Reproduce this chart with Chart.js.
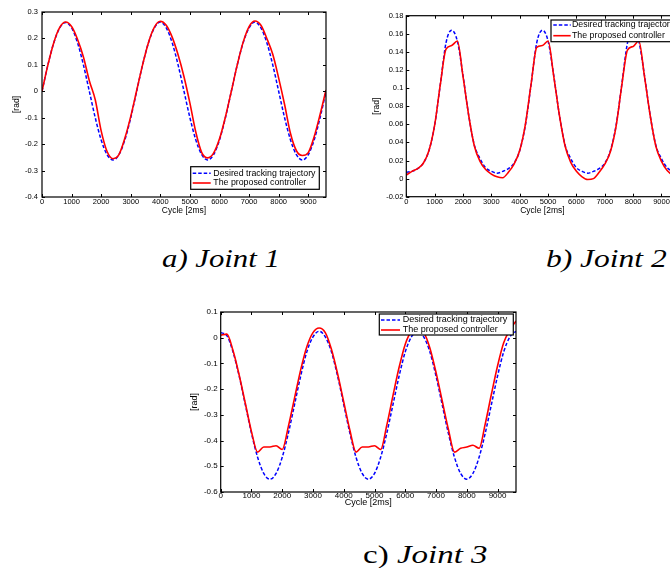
<!DOCTYPE html>
<html lang="en">
<head>
  <meta charset="UTF-8">
  <title>Joint tracking</title>
  <script src="https://cdn.jsdelivr.net/npm/chart.js@4"></script>
  <style>
    html, body {
      margin: 0;
      padding: 0;
      background: #fff;
      width: 670px;
      height: 568px;
      overflow: hidden;
    }
    canvas {
      position: absolute;
    }
    .cap {
      position: absolute;
      font-family: "Liberation Serif", "Times New Roman", serif;
      font-size: 25px;
      line-height: 25px;
      white-space: nowrap;
      transform-origin: 0 0;
      color: #000;
    }
    .cap i {
      font-style: italic;
    }
  </style>
</head>
<body>
  <canvas id="joint1" width="340" height="222" style="left:0px;top:0px"></canvas>
  <canvas id="joint2" width="360" height="222" style="left:330px;top:0px"></canvas>
  <canvas id="joint3" width="340" height="222" style="left:180px;top:300px"></canvas>

  <div class="cap" style="left:162px;top:246px;transform:scaleX(1.23)"><i>a) Joint 1</i></div>
  <div class="cap" style="left:546px;top:246px;transform:scaleX(1.26)"><i>b) Joint 2</i></div>
  <div class="cap" style="left:363px;top:542px;transform:scaleX(1.32)">c) <i>Joint 3</i></div>

  <script>
    // sample points along x (cycles of 2 ms)
    const cycles = [0, 200, 400, 600, 800, 1000, 1200, 1400, 1600, 1800,
      2000, 2200, 2400, 2600, 2800, 3000, 3200, 3400, 3600, 3800,
      4000, 4200, 4400, 4600, 4800, 5000, 5200, 5400, 5600, 5800,
      6000, 6200, 6400, 6600, 6800, 7000, 7200, 7400, 7600, 7800,
      8000, 8200, 8400, 8600, 8800, 9000, 9200, 9400, 9600];

    const seriesNames = ['Desired tracking trajectory', 'The proposed controller'];

    // a) Joint 1
    const joint1Desired = [0, 0.1, 0.184, 0.24, 0.26, 0.24, 0.184, 0.1, 0, -0.1,
      -0.184, -0.24, -0.26, -0.24, -0.184, -0.1, 0, 0.1, 0.184, 0.24,
      0.262, 0.24, 0.184, 0.1, 0, -0.1, -0.184, -0.24, -0.26, -0.24,
      -0.184, -0.1, 0, 0.1, 0.184, 0.24, 0.262, 0.24, 0.184, 0.1,
      0, -0.1, -0.184, -0.24, -0.26, -0.24, -0.184, -0.1, 0];
    const joint1Actual = [0, 0.1, 0.185, 0.242, 0.262, 0.245, 0.197, 0.13, 0.04, -0.032,
      -0.15, -0.228, -0.255, -0.24, -0.178, -0.095, 0.003, 0.1, 0.185, 0.243,
      0.265, 0.25, 0.205, 0.138, 0.055, -0.045, -0.155, -0.232, -0.252, -0.234,
      -0.18, -0.097, 0, 0.1, 0.186, 0.245, 0.266, 0.25, 0.2, 0.14,
      0.05, -0.05, -0.16, -0.225, -0.243, -0.232, -0.172, -0.088, 0.005];

    // b) Joint 2
    const joint2Desired = [0.007, 0.008, 0.011, 0.017, 0.031, 0.059, 0.104, 0.15, 0.164, 0.152,
      0.114, 0.07, 0.037, 0.022, 0.012, 0.008, 0.006, 0.008, 0.011, 0.017,
      0.031, 0.059, 0.104, 0.15, 0.164, 0.152, 0.114, 0.07, 0.037, 0.022,
      0.012, 0.008, 0.006, 0.008, 0.011, 0.017, 0.031, 0.059, 0.104, 0.15,
      0.164, 0.152, 0.114, 0.07, 0.037, 0.022, 0.012, 0.008, 0.006];
    const joint2Actual = [0.004, 0.008, 0.011, 0.017, 0.031, 0.059, 0.104, 0.143, 0.147, 0.152,
      0.113, 0.07, 0.036, 0.019, 0.01, 0.005, 0.002, 0.001, 0.007, 0.016,
      0.031, 0.06, 0.104, 0.145, 0.147, 0.152, 0.113, 0.07, 0.036, 0.018,
      0.008, 0.002, -0.001, 0, 0.007, 0.016, 0.03, 0.058, 0.103, 0.142,
      0.146, 0.152, 0.113, 0.07, 0.036, 0.019, 0.009, 0.004, 0.002];

    // c) Joint 3
    const joint3Desired = [0.02, 0.008, -0.055, -0.149, -0.26, -0.371, -0.465, -0.528, -0.55, -0.528,
      -0.465, -0.371, -0.26, -0.149, -0.055, 0.003, 0.025, 0.003, -0.055, -0.149,
      -0.26, -0.371, -0.465, -0.528, -0.55, -0.528, -0.465, -0.371, -0.26, -0.149,
      -0.055, 0.003, 0.025, 0.003, -0.055, -0.149, -0.26, -0.371, -0.465, -0.528,
      -0.55, -0.528, -0.465, -0.371, -0.26, -0.149, -0.055, 0.003, 0.025];
    const joint3Actual = [0.01, 0.014, -0.05, -0.145, -0.255, -0.365, -0.445, -0.425, -0.425, -0.42,
      -0.435, -0.345, -0.235, -0.125, -0.035, 0.02, 0.038, 0.02, -0.045, -0.14,
      -0.25, -0.36, -0.445, -0.425, -0.425, -0.42, -0.435, -0.34, -0.225, -0.115,
      -0.025, 0.025, 0.04, 0.022, -0.04, -0.135, -0.245, -0.355, -0.445, -0.43,
      -0.425, -0.418, -0.43, -0.335, -0.22, -0.11, -0.02, 0.03, 0.065];

    // tick positions
    const xTicks = [0, 1000, 2000, 3000, 4000, 5000, 6000, 7000, 8000, 9000];
    const joint1YTicks = [-0.4, -0.3, -0.2, -0.1, 0, 0.1, 0.2, 0.3];
    const joint2YTicks = [-0.02, 0, 0.02, 0.04, 0.06, 0.08, 0.1, 0.12, 0.14, 0.16, 0.18];
    const joint3YTicks = [-0.6, -0.5, -0.4, -0.3, -0.2, -0.1, 0, 0.1];

    Chart.defaults.font.family = '"Liberation Sans", Arial, sans-serif';
    Chart.defaults.color = '#000';

    // matlab style box with inward ticks + legend inside the axes
    const matlabBox = {
      id: 'matlabBox',
      afterDatasetsDraw(chart, args, opts) {
        const { ctx, chartArea: a, scales: { x, y } } = chart;
        const tl = opts.tick;
        ctx.save();
        ctx.strokeStyle = '#000';
        ctx.lineWidth = 1;
        ctx.setLineDash([]);
        ctx.beginPath();
        x.ticks.forEach(t => {
          const px = Math.round(x.getPixelForValue(t.value)) + 0.5;
          ctx.moveTo(px, a.bottom); ctx.lineTo(px, a.bottom - tl);
          ctx.moveTo(px, a.top); ctx.lineTo(px, a.top + tl);
        });
        y.ticks.forEach(t => {
          const py = Math.round(y.getPixelForValue(t.value)) + 0.5;
          ctx.moveTo(a.left, py); ctx.lineTo(a.left + tl, py);
          ctx.moveTo(a.right, py); ctx.lineTo(a.right - tl, py);
        });
        ctx.stroke();
        ctx.lineWidth = 1.2;
        ctx.strokeRect(a.left, a.top, a.right - a.left, a.bottom - a.top);

        // legend
        const lg = opts.legend;
        ctx.fillStyle = '#fff';
        ctx.fillRect(lg.x, lg.y, lg.w, lg.h);
        ctx.strokeRect(lg.x, lg.y, lg.w, lg.h);
        ctx.font = lg.font + 'px "Liberation Sans", Arial, sans-serif';
        ctx.textBaseline = 'middle';
        ctx.textAlign = 'left';
        chart.data.datasets.forEach((ds, i) => {
          const ry = lg.rows[i];
          ctx.strokeStyle = ds.borderColor;
          ctx.lineWidth = ds.borderWidth;
          ctx.setLineDash(ds.borderDash || []);
          ctx.beginPath();
          ctx.moveTo(lg.sx, ry);
          ctx.lineTo(lg.sx + lg.sw, ry);
          ctx.stroke();
          ctx.setLineDash([]);
          ctx.fillStyle = '#000';
          ctx.fillText(ds.label, lg.tx, ry);
        });
        ctx.restore();
      }
    };

    function pts(vals) {
      return cycles.map((c, i) => ({ x: c, y: vals[i] }));
    }

    function fmt(v) {
      return String(Number(v.toFixed(3)));
    }

    function jointChart(id, desired, actual, yTicks, g) {
      return new Chart(document.getElementById(id), {
        type: 'line',
        data: {
          datasets: [
            { label: seriesNames[0], data: pts(desired), borderColor: '#0000ff', borderWidth: 1.5, borderDash: [3.5, 2], order: 1 },
            { label: seriesNames[1], data: pts(actual), borderColor: '#ff0000', borderWidth: 1.6, order: 0 }
          ]
        },
        options: {
          responsive: false,
          animation: false,
          devicePixelRatio: 1,
          layout: { padding: g.pad },
          elements: {
            point: { radius: 0 },
            line: { cubicInterpolationMode: 'monotone', fill: false }
          },
          plugins: {
            legend: { display: false },
            tooltip: { enabled: false },
            matlabBox: { tick: 3, legend: g.legend }
          },
          scales: {
            x: {
              type: 'linear',
              bounds: 'data',
              min: 0,
              max: 9600,
              afterBuildTicks: s => { s.ticks = xTicks.map(v => ({ value: v })); },
              afterFit: s => { s.height = g.xh; },
              grid: { display: false, drawTicks: false },
              border: { display: false },
              ticks: { font: { size: g.tick, lineHeight: 1 }, padding: g.xtp, maxRotation: 0, autoSkip: false, callback: v => String(v) },
              title: { display: true, text: 'Cycle [2ms]', font: { size: g.title }, padding: { top: 0, bottom: g.xtb } }
            },
            y: {
              type: 'linear',
              bounds: 'data',
              min: yTicks[0],
              max: yTicks[yTicks.length - 1],
              afterBuildTicks: s => { s.ticks = yTicks.map(v => ({ value: v })); },
              afterFit: s => { s.width = g.yw; },
              grid: { display: false, drawTicks: false },
              border: { display: false },
              ticks: { font: { size: g.tick, lineHeight: 1 }, padding: g.ytp, autoSkip: false, callback: v => fmt(v) },
              title: { display: true, text: '[rad]', font: { size: g.title }, padding: { top: g.ytt, bottom: 0 } }
            }
          }
        },
        plugins: [matlabBox]
      });
    }

    jointChart('joint1', joint1Desired, joint1Actual, joint1YTicks, {
      pad: { left: 0, top: 12, right: 14, bottom: 0 },
      yw: 42, xh: 25, tick: 7.5, title: 8.5, xtp: 1, xtb: 6.2, ytp: 4, ytt: 11.6,
      legend: { x: 190.7, y: 166.7, w: 128.6, h: 22.6, sx: 192.7, sw: 18, tx: 213.3, rows: [173.3, 183], font: 8.8 }
    });

    jointChart('joint2', joint2Desired, joint2Actual, joint2YTicks, {
      pad: { left: 0, top: 15.7, right: 11.5, bottom: 0 },
      yw: 76.3, xh: 25.3, tick: 7.5, title: 8.5, xtp: 1, xtb: 6.2, ytp: 3, ytt: 41.6,
      legend: { x: 221, y: 20, w: 126.5, h: 21.7, sx: 223.3, sw: 17.4, tx: 242, rows: [25, 35.7], font: 8.8 }
    });

    jointChart('joint3', joint3Desired, joint3Actual, joint3YTicks, {
      pad: { left: 0, top: 12, right: 4, bottom: 0 },
      yw: 40.7, xh: 30, tick: 8, title: 9, xtp: 0, xtb: 13.6, ytp: 3, ytt: 9.6,
      legend: { x: 199.3, y: 14, w: 134, h: 21, sx: 201, sw: 19, tx: 222.7, rows: [20, 30], font: 9 }
    });
  </script>
</body>
</html>
